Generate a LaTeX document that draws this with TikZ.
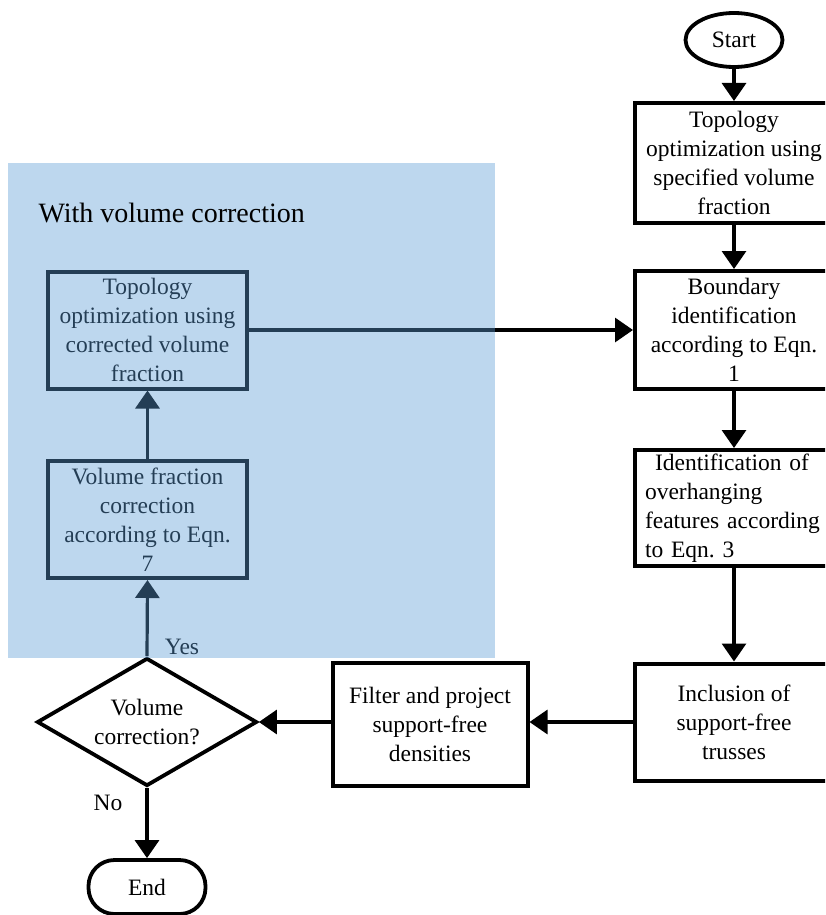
\documentclass[tikz,border=0pt]{standalone}
\usepackage{fontspec}
\setmainfont{Liberation Serif}
\usetikzlibrary{shapes.geometric,arrows.meta}
\definecolor{ovl}{HTML}{5B9BD5}
\frenchspacing
\begin{document}
\begin{tikzpicture}[x=1pt,y=-1pt,
  every node/.style={font=\fontsize{23.5}{29}\selectfont, text=black},
  procbox/.style={draw, line width=4pt, rectangle, inner sep=0pt, align=center},
  termnode/.style={draw, line width=3.8pt, inner sep=0pt},
  decnode/.style={draw, diamond, line width=3.8pt, inner sep=0pt, aspect=1.72, align=center},
  conn/.style={line width=3.2pt, -{Triangle[length=18pt,width=24pt]}},
  titletext/.style={font=\fontsize{28}{34}\selectfont}
]
\useasboundingbox (0,0) rectangle (825,915);
\clip (0,0) rectangle (825,915);
\fill[white] (0,0) rectangle (825,915);

% right column
\node[termnode, ellipse, minimum width=97pt, minimum height=54pt] (start) at (734,40) {Start};
\node[procbox, minimum width=198pt, minimum height=120pt] (topo) at (734,163) {Topology\\optimization using\\specified volume\\fraction};
\node[procbox, minimum width=198pt, minimum height=118pt] (bound) at (734,330) {Boundary\\identification\\according to Eqn.\\1};
\node[procbox, minimum width=198pt, minimum height=116pt, text width=178pt, align=left] (ident) at (734,508) {\hspace*{10pt}Identification of\\overhanging\\features according\\to Eqn. 3};
\node[procbox, minimum width=198pt, minimum height=117pt] (incl) at (734,722) {Inclusion of\\support-free\\trusses};

% bottom row
\node[procbox, minimum width=195pt, minimum height=123pt] (filt) at (430,724) {Filter and project\\support-free\\densities};
\node[decnode, minimum width=220pt, minimum height=128pt] (dec) at (147,722) {Volume\\correction?};
\node[termnode, rectangle, rounded corners=26pt, minimum width=117pt, minimum height=54pt] (end) at (147,887) {End};

% left column
\node[procbox, minimum width=199pt, minimum height=117pt] (corr) at (147.5,330) {Topology\\optimization using\\corrected volume\\fraction};
\node[procbox, minimum width=199pt, minimum height=117pt] (vfc) at (147.5,519.5) {Volume fraction\\correction\\according to Eqn.\\7};

\node (yes) at (182,647) {Yes};
\node (no) at (108,803) {No};

% connectors
\draw[conn] (start) -- (topo);
\draw[conn] (topo) -- (bound);
\draw[conn] (bound) -- (ident);
\draw[conn] (ident) -- (incl);
\draw[conn] (incl.west) -- (filt.east |- incl.west);
\draw[conn] (filt.west |- dec.east) -- (dec.east);
\draw[conn] (dec.south) -- (end.north);
\draw[conn] (dec.north) -- (vfc.south);
\draw[conn] (vfc.north) -- (corr.south);
\draw[conn] (corr.east) -- (bound.west |- corr.east);

% translucent highlight region
\fill[ovl, fill opacity=0.4] (8,163) rectangle (495,658);
\node[titletext, anchor=base west] (title) at (35,222) {With volume correction};
\end{tikzpicture}
\end{document}
